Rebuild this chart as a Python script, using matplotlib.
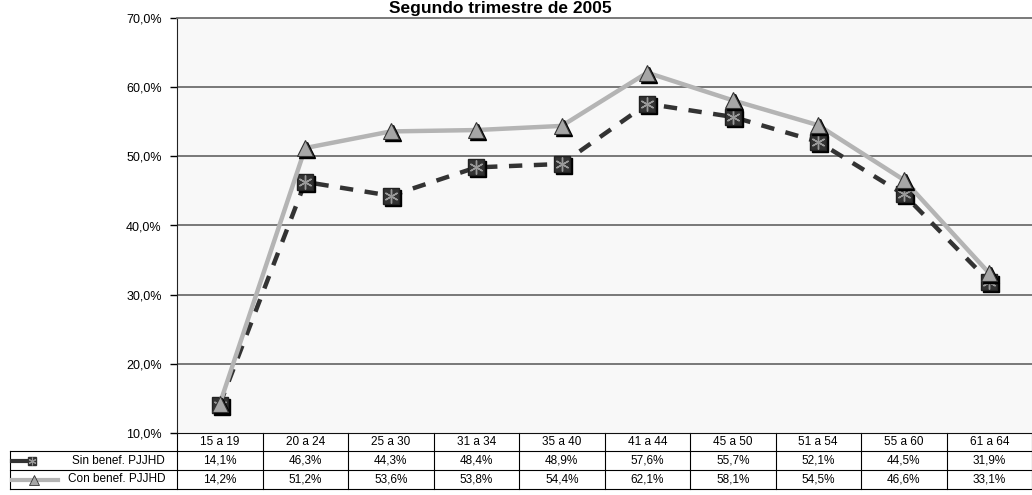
import numpy as np
import matplotlib
matplotlib.use('Agg')
from matplotlib import pyplot as plt
from matplotlib import transforms

plt.rcParams['font.family'] = ['Liberation Sans', 'DejaVu Sans']

# Tasa por grupo de edad
grupos = ['15 a 19', '20 a 24', '25 a 30', '31 a 34', '35 a 40',
          '41 a 44', '45 a 50', '51 a 54', '55 a 60', '61 a 64']
sin_benef = [14.1, 46.3, 44.3, 48.4, 48.9, 57.6, 55.7, 52.1, 44.5, 31.9]
con_benef = [14.2, 51.2, 53.6, 53.8, 54.4, 62.1, 58.1, 54.5, 46.6, 33.1]
series_names = ['Sin benef. PJJHD', 'Con benef. PJJHD']
titulo = 'Segundo trimestre de 2005'

W, H = 1032, 495
fig = plt.figure(figsize=(W / 100, H / 100), dpi=100)
ax = fig.add_axes([177 / W, 62 / H, (W - 177) / W, (433 - 18) / H])
ax.set_facecolor('#f8f8f8')

x = np.arange(len(grupos))
ax.set_xlim(-0.5, len(grupos) - 0.5)
ax.set_ylim(10, 70)
ax.set_yticks(np.arange(10, 71, 10))
ax.set_yticklabels([f'{v:.1f}%'.replace('.', ',') for v in np.arange(10, 71, 10)],
                   fontsize=9)
ax.tick_params(axis='y', length=5, width=1, pad=6, direction='out')
ax.set_xticks([])
for y in range(20, 61, 10):
    ax.axhline(y, color='#6e6e6e', lw=1.3, zorder=1)
ax.spines['top'].set_color('#6e6e6e')
ax.spines['top'].set_linewidth(1.3)
ax.spines['right'].set_visible(False)
ax.spines['left'].set_color('#222222')
ax.spines['bottom'].set_color('#111111')

dark = '#333333'
light = '#b4b4b4'
shadow = transforms.offset_copy(ax.transData, fig=fig, x=2, y=-2, units='dots')

# Serie sin beneficio: linea discontinua oscura con cuadrados
ax.plot(x, sin_benef, color=dark, lw=3.2, ls=(0, (3, 2.6)), zorder=3)
ax.plot(x, sin_benef, ls='none', marker='s', ms=11, color='black',
        transform=shadow, zorder=4)
ax.plot(x, sin_benef, ls='none', marker='s', ms=11, mfc=dark, mec='#222222',
        zorder=5)
ax.plot(x, sin_benef, ls='none', marker=(6, 2, 0), ms=10, mec='#9a9a9a',
        mew=1, zorder=6)

# Serie con beneficio: linea continua gris con triangulos
ax.plot(x, con_benef, color=light, lw=3.2, zorder=7)
ax.plot(x, con_benef, ls='none', marker='^', ms=11, color='black',
        transform=shadow, zorder=8)
ax.plot(x, con_benef, ls='none', marker='^', ms=11, mfc='#a6a6a6',
        mec='#333333', mew=0.8, zorder=9)

fig.text(500 / W, 1 - 1 / H, titulo, ha='center', va='top', fontsize=12.5,
         fontweight='bold')

# Tabla de datos debajo del grafico
tr = transforms.blended_transform_factory(ax.transData, ax.transAxes)
px = 1 / 415
tops = [0, -18 * px, -37 * px, -56 * px]
x_left = -0.5 - 167 / 85.5
x_right = len(grupos) - 0.5
line_kw = dict(color='black', lw=0.8, transform=tr, clip_on=False)

ax.plot([-0.5, x_right], [tops[1]] * 2, **line_kw)
for t in tops[2:]:
    ax.plot([x_left, x_right], [t] * 2, **line_kw)
ax.plot([x_left, -0.5], [tops[1]] * 2, **line_kw)
ax.plot([x_left, x_left], [tops[1], tops[3]], **line_kw)
for i in range(len(grupos) + 1):
    ax.plot([i - 0.5] * 2, [tops[0], tops[3]], **line_kw)

for i, g in enumerate(grupos):
    ax.text(i, (tops[0] + tops[1]) / 2, g, transform=tr, ha='center',
            va='center', fontsize=8.5)
for r, vals in enumerate([sin_benef, con_benef]):
    yc = (tops[r + 1] + tops[r + 2]) / 2
    for i, v in enumerate(vals):
        ax.text(i, yc, f'{v:.1f}%'.replace('.', ','), transform=tr,
                ha='center', va='center', fontsize=8.5)
    ax.text(-0.5 - 12 / 85.5, yc, series_names[r], transform=tr, ha='right',
            va='center', fontsize=8.5)

# Claves de la leyenda en las etiquetas de fila
lx = lambda p: -0.5 + (p - 177) / 85.5
yc0 = (tops[1] + tops[2]) / 2
yc1 = (tops[2] + tops[3]) / 2
ax.plot([lx(12), lx(34)], [yc0, yc0], color=dark, lw=3, transform=tr,
        clip_on=False)
ax.plot([lx(32)], [yc0], marker='s', ms=6, mfc=dark, mec=dark, transform=tr,
        clip_on=False)
ax.plot([lx(32)], [yc0], marker=(6, 2, 0), ms=5.5, mec='#9a9a9a', mew=0.8,
        transform=tr, clip_on=False)
ax.plot([lx(12), lx(58)], [yc1, yc1], color=light, lw=3, transform=tr,
        clip_on=False)
ax.plot([lx(34)], [yc1], marker='^', ms=7, mfc='#a6a6a6', mec='#333333',
        mew=0.6, transform=tr, clip_on=False)

fig.savefig('out.png', dpi=100)
